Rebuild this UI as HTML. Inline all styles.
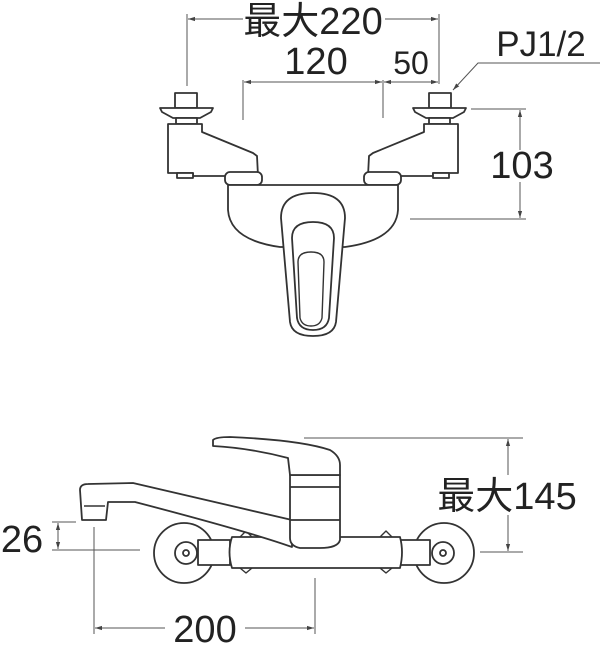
<!DOCTYPE html>
<html><head><meta charset="utf-8"><style>
html,body{margin:0;padding:0;background:#fff;width:600px;height:645px;overflow:hidden}
svg{display:block}
text{font-family:"Liberation Sans","Noto Sans CJK JP",sans-serif;fill:#222}
</style></head><body>
<svg width="600" height="645" viewBox="0 0 600 645" xmlns="http://www.w3.org/2000/svg">
<defs>
<marker id="a" viewBox="0 0 10 10" refX="10" refY="5" markerWidth="7" markerHeight="7" orient="auto-start-reverse"><path d="M0,2 L10,5 L0,8z" fill="#444"/></marker>
</defs>
<g stroke="#555" stroke-width="1" fill="none">
<!-- top dims -->
<line x1="187" y1="14" x2="187" y2="86"/>
<line x1="439" y1="14" x2="439" y2="84"/>
<line x1="188" y1="19" x2="243" y2="19" marker-start="url(#a)"/>
<line x1="385" y1="19" x2="438" y2="19" marker-end="url(#a)"/>
<line x1="243" y1="80" x2="243" y2="120"/>
<line x1="383" y1="80" x2="383" y2="118"/>
<line x1="244" y1="82" x2="382" y2="82" marker-start="url(#a)" marker-end="url(#a)"/>
<line x1="384" y1="82" x2="438" y2="82" marker-start="url(#a)" marker-end="url(#a)"/>
<!-- PJ leader -->
<polyline points="600,63 478,63 453,90" marker-end="url(#a)"/>
<!-- 103 -->
<line x1="471" y1="109" x2="526" y2="109"/>
<line x1="410" y1="219" x2="526" y2="219"/>
<line x1="520" y1="110" x2="520" y2="150" marker-start="url(#a)"/>
<line x1="520" y1="182" x2="520" y2="218" marker-end="url(#a)"/>
<!-- 145 -->
<line x1="304" y1="438" x2="523" y2="438"/>
<line x1="480" y1="552" x2="523" y2="552"/>
<line x1="508" y1="439" x2="508" y2="475" marker-start="url(#a)"/>
<line x1="508" y1="515" x2="508" y2="551" marker-end="url(#a)"/>
<!-- 26 -->
<line x1="52" y1="522" x2="76" y2="522"/>
<line x1="52" y1="550" x2="140" y2="550"/>
<line x1="58" y1="523" x2="58" y2="549" marker-start="url(#a)" marker-end="url(#a)"/>
<!-- 200 -->
<line x1="94" y1="527" x2="94" y2="634"/>
<line x1="315" y1="578" x2="315" y2="634"/>
<line x1="95" y1="628" x2="165" y2="628" marker-start="url(#a)"/>
<line x1="245" y1="628" x2="314" y2="628" marker-end="url(#a)"/>
</g>
<g font-size="38">
<text x="313" y="34" text-anchor="middle">最大220</text>
<text x="316" y="74" text-anchor="middle">120</text>
<text x="411" y="74" text-anchor="middle" font-size="32">50</text>
<text x="541" y="56" text-anchor="middle" font-size="35">PJ1/2</text>
<text x="522" y="178" text-anchor="middle">103</text>
<text x="507" y="509" text-anchor="middle">最大145</text>
<text x="22" y="552" text-anchor="middle">26</text>
<text x="205" y="642" text-anchor="middle">200</text>
</g>
<!-- TOP VIEW -->
<g stroke="#333" stroke-width="1.8" fill="#fff" stroke-linejoin="round">
<g id="lv">
<rect x="175" y="93" width="22" height="15"/>
<path d="M160,108 L213,108 L211,112 L200,118 L173,118 L162,112 Z"/>
<rect x="176" y="118" width="21" height="6"/>
<path d="M168,124 L202,124 L202,132 L253,153 L257,156 L258,176 L193,176 L193,173 L168,173 Z"/>
<rect x="177" y="173" width="16" height="5"/>
</g>
<use href="#lv" transform="translate(626,0) scale(-1,1)"/>
<rect x="225" y="172" width="37" height="13" rx="5"/>
<rect x="364" y="172" width="37" height="13" rx="5"/>
<path d="M228,185 L398,185 L398,210 Q396,240 345,247 L280,247 Q230,240 228,210 Z"/>
<path d="M281,218 Q281,193 313,193 Q345,193 345,218 L336,322 Q334,336 313,336 Q292,336 290,322 Z"/>
<path d="M292,238 Q292,222 313,222 Q334,222 334,238 L329,318 Q327,330 313,330 Q299,330 297,318 Z"/>
<path d="M298,262 Q298,252 311,252 Q324,252 324,262 L322,318 Q320,326 311,326 Q302,326 300,318 Z" stroke-width="1.4"/>
</g>
<!-- SIDE VIEW -->
<g stroke="#333" stroke-width="1.8" fill="#fff" stroke-linejoin="round">
<circle cx="184" cy="553" r="30"/>
<circle cx="444" cy="553" r="30"/>
<rect x="198" y="540" width="32" height="25"/>
<rect x="400" y="540" width="30" height="25"/>
<circle cx="186" cy="553" r="11"/>
<circle cx="186" cy="553" r="3"/>
<circle cx="443" cy="553" r="11"/>
<circle cx="443" cy="553" r="3"/>
<path d="M240,537 L246,531 L252,537 M380,537 L386,531 L392,537 M240,568 L246,573 L252,568 M380,568 L386,573 L392,568" stroke-width="1.4"/>
<path d="M232,537 L400,537 Q404,552 400,568 L232,568 Q227,552 232,537 Z"/>
<path d="M80,490 Q80,484 88,484 L133,483 L292,520 L292,547 Q250,532 135,502 L108,502 L106,520 L82,520 Z"/>
<line x1="84" y1="506" x2="105" y2="506" stroke-width="1.4"/>
<path d="M290,475 L340,475 L340,540 Q338,548 320,548 L300,548 Q290,546 290,538 Z"/>
<line x1="290" y1="487" x2="340" y2="487"/>
<line x1="290" y1="520" x2="340" y2="520"/>
<path d="M213,440 Q216,437 230,437 Q300,440 330,450 Q340,456 340,465 L340,475 L290,475 L288,458 Q250,448 213,446 Z"/>
</g>
</svg>
</body></html>
